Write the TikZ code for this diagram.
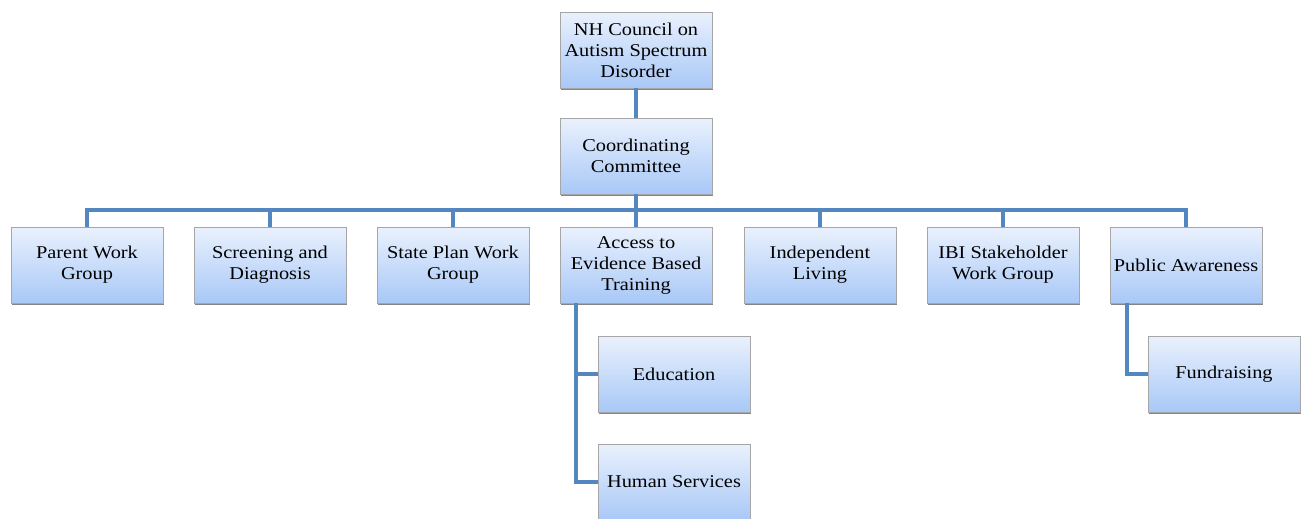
\documentclass[tikz,border=0pt]{standalone}
\usepackage{fontspec}
\setmainfont[FakeStretch=1.13]{Liberation Serif}
\usepackage{tikz}
\usetikzlibrary{calc,shadows}

\definecolor{boxtop}{RGB}{234,241,253}
\definecolor{boxbot}{RGB}{168,200,247}
\definecolor{linkblue}{RGB}{84,135,192}

\tikzset{
  unit/.style={draw=gray!70, line width=0.5pt, top color=boxtop, bottom color=boxbot,
    minimum width=114pt, minimum height=57pt, align=center,
    inner sep=1pt, font=\fontsize{13.5}{15.75}\selectfont,
    drop shadow={shadow xshift=0.6pt, shadow yshift=-1.2pt, fill=black!60, opacity=0.8}},
  link/.style={draw=linkblue, line width=3pt}
}

\begin{document}
\begin{tikzpicture}[x=0.75pt,y=-0.75pt]
            \useasboundingbox (0,0) rectangle (1302,518);
            % top of the chart
            \node[unit] (council) at (636,50) {NH Council on\\Autism Spectrum\\Disorder};
            \node[unit] (coord) at (636,156) {Coordinating\\Committee};
            % work groups
            \node[unit] (parent) at (87,265) {Parent Work\\Group};
            \node[unit] (screen) at (270,265) {Screening and\\Diagnosis};
            \node[unit] (state) at (453,265) {State Plan Work\\Group};
            \node[unit] (access) at (636,265) {Access to\\Evidence Based\\Training};
            \node[unit] (living) at (820,265) {Independent\\Living};
            \node[unit] (ibi) at (1003,265) {IBI Stakeholder\\Work Group};
            \node[unit] (public) at (1186,265) {Public Awareness};
            % sub groups
            \node[unit] (edu) at (674,374) {Education};
            \node[unit] (human) at (674,482) {Human Services};
            \node[unit] (fund) at (1224,374) {Fundraising};
            % connectors
            \draw[link] (council) -- (coord);
            \foreach \g in {parent,screen,state,access,living,ibi,public}
                \draw[link] (coord.south) -- ++(0,16) -| (\g.north);
            \draw[link] ($(access.south west)+(16,0)$) |- (edu.west);
            \draw[link] ($(access.south west)+(16,0)$) |- (human.west);
            \draw[link] ($(public.south west)+(17,0)$) |- (fund.west);
        \end{tikzpicture}
\end{document}
